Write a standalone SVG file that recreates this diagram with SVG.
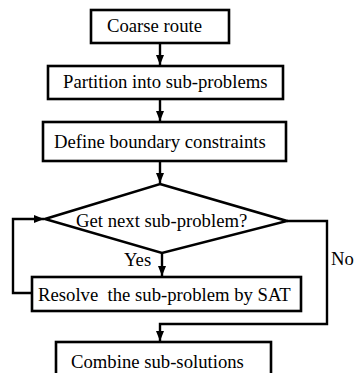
<svg xmlns="http://www.w3.org/2000/svg" width="355" height="373" viewBox="0 0 355 373">
<defs>
<style>
.box{fill:#fff;stroke:#000;stroke-width:2.6}
.ln{fill:none;stroke:#000;stroke-width:2.4}
.t{font-family:"Liberation Serif","Times New Roman",serif;font-size:18.7px;fill:#000}
</style>
<marker id="ah" markerUnits="userSpaceOnUse" markerWidth="10" markerHeight="10" viewBox="0 0 10 10" refX="10" refY="5" orient="auto">
<path d="M0,1 L10,5 L0,9 Z" fill="#000"/>
</marker>
</defs>
<rect width="355" height="373" fill="#fff"/>
<g id="connectors">
<line class="ln" x1="160" y1="43" x2="160" y2="65" marker-end="url(#ah)"/>
<line class="ln" x1="160" y1="99" x2="160" y2="121" marker-end="url(#ah)"/>
<line class="ln" x1="160" y1="161" x2="160" y2="183" marker-end="url(#ah)"/>
<line class="ln" x1="162" y1="253" x2="162" y2="276" marker-end="url(#ah)"/>
<polyline class="ln" points="32,293 13,293 13,219 44,219" marker-end="url(#ah)"/>
<polyline class="ln" points="287,221 327,221 327,324 160,324 160,341" marker-end="url(#ah)"/>
</g>
<g id="n1"><rect class="box" x="91" y="10" width="138" height="33"/><text class="t" x="107" y="32">Coarse route</text></g>
<g id="n2"><rect class="box" x="48" y="66" width="235" height="33"/><text class="t" x="63" y="88">Partition into sub-problems</text></g>
<g id="n3"><rect class="box" x="43" y="122" width="243" height="39"/><text class="t" x="54" y="148">Define boundary constraints</text></g>
<g id="n4"><polygon class="box" points="160,184 287,221 162,253 45,219"/><text class="t" x="76" y="227">Get next sub-problem?</text></g>
<g id="n5"><rect class="box" x="32" y="277" width="269" height="34"/><text class="t" x="38" y="301" xml:space="preserve">Resolve  the sub-problem by SAT</text></g>
<g id="n6"><rect class="box" x="56" y="342" width="215" height="40"/><text class="t" x="71" y="368">Combine sub-solutions</text></g>
<text class="t" x="124" y="266">Yes</text>
<text class="t" x="331" y="265">No</text>
</svg>
